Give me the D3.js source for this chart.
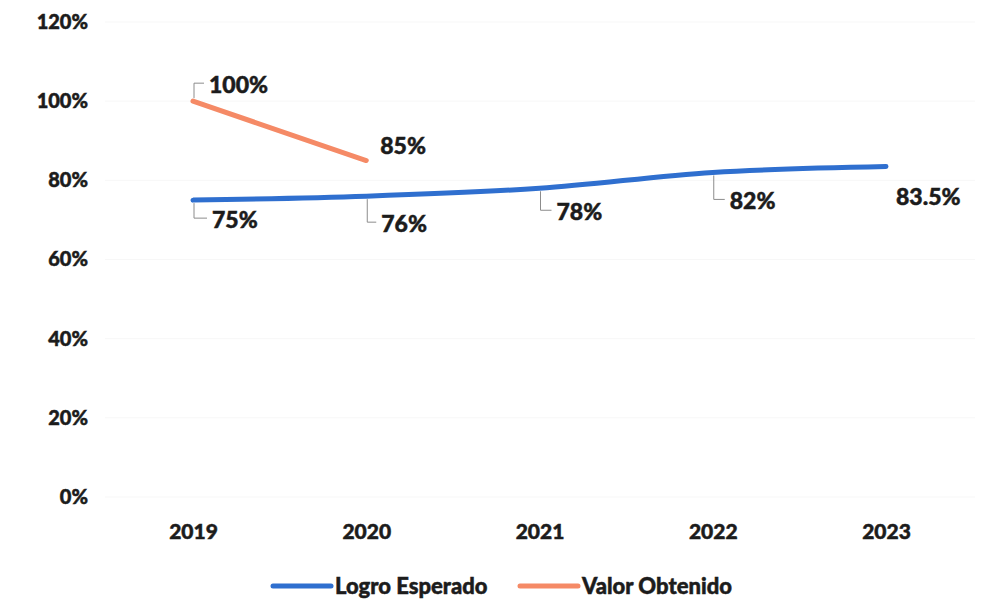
<!DOCTYPE html>
<html>
<head>
<meta charset="utf-8">
<script src="https://cdn.jsdelivr.net/npm/d3@7"></script>
<style>
  html, body { margin: 0; padding: 0; background: #fff; }
  svg { display: block; font-family: Lato, "Open Sans", sans-serif; font-weight: 700; }
  svg text { stroke: #1c1c1c; stroke-width: 0.5px; }
</style>
</head>
<body>
<div id="chart"></div>
<script>
// ── Data ───────────────────────────────────────────────────────────────
const years = ["2019", "2020", "2021", "2022", "2023"];
const yTicks = [0, 0.2, 0.4, 0.6, 0.8, 1.0, 1.2];
const logroEsperado = [0.75, 0.76, 0.78, 0.82, 0.835];
const valorObtenido = [1.00, 0.85];
const logroLabels = ["75%", "76%", "78%", "82%", "83.5%"];
const valorLabels = ["100%", "85%"];

// label offsets (relative to point) and whether a leader line is drawn
const logroLabelPos = [
    { dx: 19, dy: 20, leader: true },
    { dx: 15, dy: 28, leader: true },
    { dx: 17, dy: 24, leader: true },
    { dx: 17, dy: 29, leader: true },
    { dx: 10, dy: 30, leader: false }
];
const valorLabelPos = [
    { dx: 16, dy: -16, leader: true },
    { dx: 14, dy: -15, leader: false }
];

const W = 984, H = 604;
const blue = "#2f6fcf", orange = "#f58a66";
const ink = "#1c1c1c";

const svg = d3.select("#chart").append("svg")
    .attr("width", W).attr("height", H);

// Scales
const x = d3.scalePoint().domain(years).range([193, 886]);
const y = d3.scaleLinear().domain([0, 1.2]).range([497, 22]);

// Faint gridlines
svg.append("g").selectAll("line")
    .data(yTicks)
    .join("line")
    .attr("x1", 105).attr("x2", 975)
    .attr("y1", d => y(d)).attr("y2", d => y(d))
    .style("stroke", "#f7f7f7").style("stroke-width", 1);

// Y axis (labels only)
const yAxis = svg.append("g")
    .attr("transform", "translate(88,0)")
    .call(d3.axisLeft(y).tickValues(yTicks).tickFormat(d3.format(".0%")).tickSize(0).tickPadding(0));
yAxis.select(".domain").remove();
yAxis.selectAll("text")
    .style("font-size", "20px").style("font-family", "Lato, sans-serif")
    .style("font-weight", 900).style("fill", ink);

// X axis (labels only)
const xAxis = svg.append("g")
    .attr("transform", "translate(0,524)")
    .call(d3.axisBottom(x).tickSize(0).tickPadding(0));
xAxis.select(".domain").remove();
xAxis.selectAll("text")
    .style("font-size", "21px").style("font-family", "Lato, sans-serif")
    .style("font-weight", 900).style("fill", ink);

// Lines
const line = d3.line()
    .x((d, i) => x(years[i]))
    .y(d => y(d))
    .curve(d3.curveMonotoneX);

svg.append("path").datum(logroEsperado)
    .attr("d", line)
    .style("fill", "none").style("stroke", blue)
    .style("stroke-width", 5).style("stroke-linecap", "round");

svg.append("path").datum(valorObtenido)
    .attr("d", line)
    .style("fill", "none").style("stroke", orange)
    .style("stroke-width", 5).style("stroke-linecap", "round");

// Data labels
function drawLabels(values, labels, pos) {
    const g = svg.append("g");
    values.forEach((v, i) => {
        const px = x(years[i]), py = y(v);
        const p = pos[i];
        const ty = py + p.dy;
        if (p.leader) {
            const midY = ty - 2;
            g.append("path")
                .attr("d", `M${px + 1},${py + (p.dy > 0 ? 3 : -3)} L${px + 1},${midY} L${px + p.dx - 5},${midY}`)
                .style("fill", "none").style("stroke", "#8c8c8c").style("stroke-width", 1);
        }
        g.append("text")
            .attr("x", px + p.dx)
            .attr("y", ty)
            .attr("dy", "0.35em")
            .style("font-size", "23px")
            .style("font-weight", 900)
            .style("fill", ink)
            .text(labels[i]);
    });
}
drawLabels(logroEsperado, logroLabels, logroLabelPos);
drawLabels(valorObtenido, valorLabels, valorLabelPos);

// Legend
const legend = [
    { name: "Logro Esperado", color: blue, x: 273 },
    { name: "Valor Obtenido", color: orange, x: 520 }
];
const lg = svg.append("g").attr("transform", "translate(0,586)");
legend.forEach(d => {
    lg.append("line")
        .attr("x1", d.x).attr("x2", d.x + 58)
        .attr("y1", 0).attr("y2", 0)
        .style("stroke", d.color).style("stroke-width", 5).style("stroke-linecap", "round");
    lg.append("text")
        .attr("x", d.x + 62).attr("y", 0).attr("dy", "0.35em")
        .style("font-size", "22px").style("font-weight", 900).style("fill", ink)
        .text(d.name);
});
</script>
</body>
</html>
